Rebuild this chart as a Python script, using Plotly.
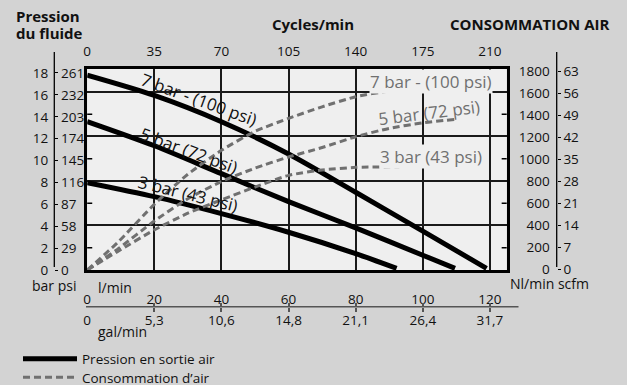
import plotly.graph_objects as go

W, H = 627, 385

# ---------------- data ----------------
flow_ticks = [0, 20, 40, 60, 80, 100, 120]            # l/min
gal_labels = ["0", "5,3", "10,6", "14,8", "21,1", "26,4", "31,7"]
cycle_labels = ["0", "35", "70", "105", "140", "175", "210"]
bar_ticks = [0, 2, 4, 6, 8, 10, 12, 14, 16, 18]
psi_labels = ["0", "29", "58", "87", "116", "145", "174", "203", "232", "261"]
nl_ticks = [0, 200, 400, 600, 800, 1000, 1200, 1400, 1600, 1800]
scfm_labels = ["0", "7", "14", "21", "28", "35", "42", "49", "56", "63"]

# fluid outlet pressure (bar) vs flow (l/min)
p7_flow = [0, 20, 40, 60, 80, 100, 119]
p7_bar = [17.8, 15.95, 13.55, 10.6, 7.1, 3.55, 0.15]
p5_flow = [0, 20, 40, 60, 80, 100, 109.6]
p5_bar = [13.56, 11.35, 8.8, 6.25, 3.85, 1.35, 0.15]
p3_flow = [0, 20, 40, 60, 80, 92.2]
p3_bar = [7.98, 6.7, 5.15, 3.45, 1.5, 0.15]

# air consumption (Nl/min) vs flow (l/min)
a7_flow = [0, 9, 20, 30, 40, 50, 60, 70, 80, 90, 100, 110, 120]
a7_nl = [0, 245, 590, 860, 1075, 1245, 1362, 1466, 1556, 1608, 1628, 1634, 1636]
a5_flow = [0, 9, 20, 30, 40, 50, 60, 70, 80, 90, 100, 109.5]
a5_nl = [0, 185, 440, 640, 795, 915, 1015, 1100, 1197, 1272, 1322, 1353]
a3_flow = [0, 9, 20, 30, 40, 50, 60, 70, 80, 93]
a3_nl = [0, 165, 360, 510, 630, 745, 850, 898, 922, 927]

# ---------------- layout helpers ----------------
def px_x(p):
    return p / W

def px_y(p):
    return 1 - p / H

FONT = "Open Sans"
BLACK = "#111111"
GRAY = "#707070"
BG = "#d3d3d3"

XDOM = [px_x(87.2), px_x(506.7)]
YDOM = [px_y(270), px_y(68.5)]
XR = [0, 125]
YR_BAR = [0, 18.41]
YR_NL = [0, 1810]
YR_NL_LABELS = [-9, 1823]

fig = go.Figure()

pressure = [(p7_flow, p7_bar), (p5_flow, p5_bar), (p3_flow, p3_bar)]
for i, (fx, fy) in enumerate(pressure):
    fig.add_trace(go.Scatter(
        x=fx, y=fy, mode="lines", xaxis="x", yaxis="y",
        line=dict(color="black", width=5, shape="spline", smoothing=0.8),
        name="Pression en sortie air", legend="legend",
        showlegend=(i == 0), hoverinfo="skip"))

air = [(a7_flow, a7_nl), (a5_flow, a5_nl), (a3_flow, a3_nl)]
for i, (fx, fy) in enumerate(air):
    fig.add_trace(go.Scatter(
        x=fx, y=fy, mode="lines", xaxis="x", yaxis="y2",
        line=dict(color=GRAY, width=3, dash="7px,4px", shape="spline", smoothing=0.6),
        name="Consommation d\u2019air", legend="legend2",
        showlegend=(i == 0), hoverinfo="skip"))

# empty helper traces so that every label axis belongs to a subplot
for xa, ya in [("x2", "y"), ("x3", "y"), ("x", "y3"), ("x", "y4"), ("x", "y5")]:
    fig.add_trace(go.Scatter(x=[None], y=[None], xaxis=xa, yaxis=ya, mode="lines",
                             showlegend=False, hoverinfo="skip"))

tickfont = dict(family=FONT, size=13.5, color=BLACK)
legfont = dict(family=FONT, size=13.5, color=BLACK)

fig.update_layout(
    width=W, height=H,
    margin=dict(l=0, r=0, t=0, b=0, autoexpand=False),
    paper_bgcolor=BG,
    plot_bgcolor="#efefef",
    font=dict(family=FONT, color=BLACK),
    showlegend=True,
    legend=dict(x=px_x(18), y=px_y(359), xanchor="left", yanchor="middle",
                bgcolor="rgba(0,0,0,0)", font=legfont, itemwidth=54),
    legend2=dict(x=px_x(18), y=px_y(377.5), xanchor="left", yanchor="middle",
                 bgcolor="rgba(0,0,0,0)", font=legfont, itemwidth=54),
    # l/min axis (free, below the plot)
    xaxis=dict(domain=XDOM, range=XR, anchor="free", position=px_y(306.7), side="top",
               tickvals=flow_ticks, ticks="inside", ticklen=4, tickcolor="#555",
               tickwidth=1.5, tickfont=tickfont, showline=False, automargin=False,
               showgrid=True, gridcolor="#1a1a1a", gridwidth=1.5, zeroline=False),
    # gal/min labels
    xaxis2=dict(overlaying="x", range=XR, anchor="free", position=px_y(306.7), side="bottom",
                tickvals=flow_ticks, ticktext=gal_labels, ticks="inside", ticklen=4,
                tickcolor="#555", tickwidth=1.5, tickfont=tickfont, automargin=False,
                ticklabelstandoff=4,
                showgrid=False, showline=False, zeroline=False),
    # cycles/min labels + plot border top/bottom
    xaxis3=dict(overlaying="x", range=XR, anchor="y", side="top",
                tickvals=flow_ticks, ticktext=cycle_labels, ticks="outside", ticklen=4,
                tickcolor="rgba(0,0,0,0)", tickfont=tickfont, automargin=False,
                showgrid=False, zeroline=False,
                showline=True, mirror=True, linecolor="black", linewidth=3),
    # bar labels
    yaxis=dict(domain=YDOM, range=YR_BAR, anchor="free", position=px_x(54.3), side="left",
               tickvals=bar_ticks, ticks="", tickfont=tickfont, ticklabelstandoff=6,
               showgrid=False, showline=False, zeroline=False, automargin=False),
    # Nl/min grid + border left/right
    yaxis2=dict(overlaying="y", range=YR_NL, anchor="x", side="left",
                tickvals=[400, 800, 1200, 1600], showticklabels=False, ticks="",
                showgrid=True, gridcolor="#1a1a1a", gridwidth=1.5, zeroline=False,
                automargin=False,
                showline=True, mirror=True, linecolor="black", linewidth=3),
    # Nl/min labels
    yaxis3=dict(overlaying="y", range=YR_NL_LABELS, anchor="free", position=px_x(556.7),
                side="left", tickvals=nl_ticks, ticks="", tickfont=tickfont,
                ticklabelstandoff=7, showgrid=False, showline=False, zeroline=False,
                automargin=False),
    # scfm labels
    yaxis4=dict(overlaying="y", range=YR_NL_LABELS, anchor="free", position=px_x(556.7),
                side="right", tickvals=nl_ticks, ticktext=scfm_labels, ticks="outside",
                ticklen=3, tickcolor="black", tickfont=tickfont, automargin=False,
                showgrid=False, showline=False, zeroline=False),
    # psi labels
    yaxis5=dict(overlaying="y", range=YR_BAR, anchor="free", position=px_x(54.3), side="right",
                tickvals=bar_ticks, ticktext=psi_labels, ticks="outside", ticklen=3,
                tickcolor="black", tickfont=tickfont, automargin=False,
                showgrid=False, showline=False, zeroline=False),
)

shapes = [
    dict(type="line", xref="paper", yref="paper", x0=px_x(54.3), x1=px_x(54.3),
         y0=px_y(52), y1=px_y(267), line=dict(color="black", width=1.3)),
    dict(type="line", xref="paper", yref="paper", x0=px_x(556.7), x1=px_x(556.7),
         y0=px_y(52), y1=px_y(267), line=dict(color="black", width=1.3)),
    dict(type="line", xref="paper", yref="paper", x0=px_x(86), x1=px_x(518.5),
         y0=px_y(306.7), y1=px_y(306.7), line=dict(color="#555555", width=1.6)),
]
# minor tick marks on the left/right borders
for v in [200, 600, 1000, 1400]:
    for side in (0, 1):
        x0 = 0 if side == 0 else 1
        x1 = 0.012 if side == 0 else 0.988
        shapes.append(dict(type="line", xref="x domain", yref="y2", x0=x0, x1=x1,
                           y0=v, y1=v, line=dict(color="black", width=1.5)))
fig.update_layout(shapes=shapes)

ann = []
def txt(text, x, y, size=15, bold=False, color=BLACK, xanchor="center", **kw):
    ann.append(dict(text=("<b>%s</b>" % text) if bold else text, x=x, y=y,
                    xref="paper", yref="paper", showarrow=False, xanchor=xanchor,
                    yanchor="middle", font=dict(family=FONT, size=size, color=color), **kw))

txt("Pression", px_x(14), px_y(16), bold=True, xanchor="left")
txt("du fluide", px_x(14), px_y(33), bold=True, xanchor="left")
txt("Cycles/min", px_x(313), px_y(24), bold=True)
txt("CONSOMMATION AIR", px_x(529.5), px_y(24), bold=True)
txt("bar psi", px_x(54), px_y(285), size=14)
txt("Nl/min scfm", px_x(549), px_y(283.5), size=14)
txt("l/min", px_x(96), px_y(287), size=14, xanchor="left")
txt("gal/min", px_x(96), px_y(331), size=14, xanchor="left")

# curve labels (data coordinates)
curve_labels = [
    ("7 bar - (100 psi)", 33.4, 15.55, "y", 20, BLACK, None),
    ("5 bar (72 psi)", 30.4, 10.95, "y", 20, BLACK, None),
    ("3 bar (43 psi)", 30.1, 7.0, "y", 14, BLACK, None),
    ("7 bar - (100 psi)", 102.3, 1692, "y2", 0, GRAY, "#efefef"),
    ("5 bar (72 psi)", 101.8, 1418, "y2", -7, GRAY, None),
    ("3 bar (43 psi)", 102.4, 1023, "y2", 0, GRAY, "#efefef"),
]
for t, x, y, yr, ang, col, bg in curve_labels:
    d = dict(text=t, x=x, y=y, xref="x", yref=yr, showarrow=False, textangle=ang,
             font=dict(family=FONT, size=17, color=col), xanchor="center", yanchor="middle")
    if bg:
        d["bgcolor"] = bg
        d["borderpad"] = 0
    ann.append(d)

fig.update_layout(annotations=ann)

fig.write_html(
    "out.html",
    config={"displayModeBar": False},
    post_script="document.documentElement.style.background='%s';"
                "document.body.style.margin='0';document.body.style.background='%s';" % (BG, BG),
)
